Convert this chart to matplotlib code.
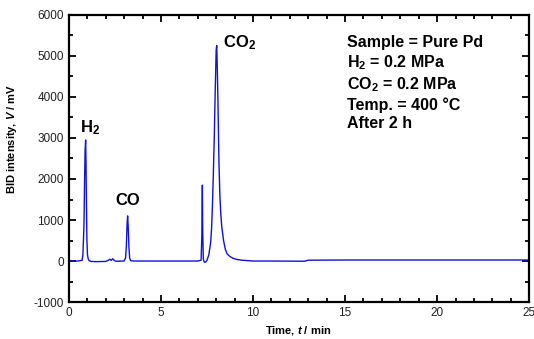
import matplotlib
matplotlib.use("Agg")
import matplotlib.pyplot as plt
from matplotlib.ticker import MultipleLocator

plt.rcParams['font.family'] = ['Liberation Sans', 'DejaVu Sans']
plt.rcParams['axes.unicode_minus'] = False
plt.rcParams['mathtext.fontset'] = 'custom'
plt.rcParams['mathtext.rm'] = 'Liberation Sans'
plt.rcParams['mathtext.bf'] = 'Liberation Sans:bold'
plt.rcParams['mathtext.it'] = 'Liberation Sans:italic'
plt.rcParams['mathtext.bfit'] = 'Liberation Sans:italic:bold'

# chromatogram (time in min, signal in mV)
time_min = [0.0, 0.5, 0.72, 0.76, 0.79, 0.82, 0.85, 0.88, 0.91, 0.93, 0.95, 0.98,
            1.01, 1.05, 1.1, 1.2, 1.5, 2.0, 2.15, 2.22, 2.3, 2.38, 2.45, 2.52, 2.6,
            3.0, 3.08, 3.12, 3.16, 3.19, 3.22, 3.26, 3.3, 3.35, 3.5, 5.0, 7.0, 7.18,
            7.22, 7.25, 7.27, 7.3, 7.35, 7.42, 7.5, 7.6, 7.7, 7.75, 7.8, 7.85, 7.9,
            7.95, 8.0, 8.03, 8.06, 8.1, 8.15, 8.2, 8.25, 8.3, 8.4, 8.5, 8.6, 8.75,
            8.9, 9.1, 9.4, 9.7, 10.0, 11.0, 12.8, 13.0, 15.0, 25.0]
signal_mv = [0, 0, 20, 150, 500, 900, 1900, 2700, 2950, 2400, 1500, 500,
             150, 50, 10, -10, -15, -10, 20, 45, 15, 55, 20, 0, -5,
             0, 80, 350, 900, 1100, 850, 350, 80, 10, 0, 0, 0, 20,
             600, 1850, 700, 50, -25, -30, 20, 150, 450, 800, 1400, 2200, 3100,
             4200, 5150, 5250, 4700, 3800, 2400, 1600, 1150, 850, 500, 280, 170, 110,
             70, 40, 20, 10, 0, 0, -5, 20, 25, 25]

peak_labels = ['H$_\\mathbf{2}$', 'CO', 'CO$_\\mathbf{2}$']
peak_label_xy = [(0.6, 3150), (2.5, 1370), (8.37, 5200)]
conditions = ['Sample = Pure Pd', 'H$_\\mathbf{2}$ = 0.2 MPa', 'CO$_\\mathbf{2}$ = 0.2 MPa',
              'Temp. = 400 \u00b0C', 'After 2 h']

fig = plt.figure(figsize=(5.34, 3.39), dpi=100)
ax = fig.add_axes([0.129, 0.109, 0.862, 0.847])
ax.plot(time_min, signal_mv, color='#1010e0', lw=1.0)

ax.set_xlim(0, 25)
ax.set_ylim(-1000, 6000)
ax.xaxis.set_major_locator(MultipleLocator(5))
ax.xaxis.set_minor_locator(MultipleLocator(1))
ax.yaxis.set_major_locator(MultipleLocator(1000))
ax.yaxis.set_minor_locator(MultipleLocator(500))
ax.tick_params(which='both', direction='in', top=True, right=True,
               labelsize=8.5, labelcolor='#222222', width=1.3)
ax.tick_params(which='major', length=5)
ax.tick_params(which='minor', length=3)
for s in ax.spines.values():
    s.set_linewidth(1.6)

ax.set_xlabel('Time, $\\mathbfit{t}$ / min', fontsize=8, fontweight='bold')
ax.xaxis.set_label_coords(0.498, -0.075)
ax.set_ylabel('BID intensity, $\\mathbfit{V}$ / mV', fontsize=8, fontweight='bold')
ax.yaxis.set_label_coords(-0.108, 0.568)

for lab, (x, y) in zip(peak_labels, peak_label_xy):
    ax.text(x, y, lab, fontsize=12, fontweight='bold', ha='left', va='baseline')

ax.text(0.605, 0.93, '\n'.join(conditions), transform=ax.transAxes, fontsize=11.5,
        fontweight='bold', ha='left', va='top', linespacing=1.25)

fig.savefig('out.png', dpi=100)
